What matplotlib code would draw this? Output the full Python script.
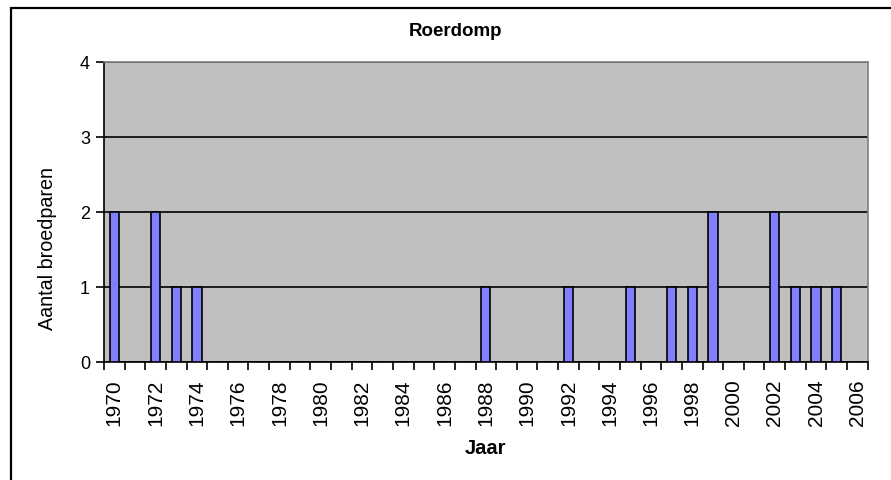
import numpy as np
import matplotlib.pyplot as plt
from matplotlib.patches import Rectangle

plt.rcParams["font.family"] = ["Liberation Sans", "DejaVu Sans"]

# Data: breeding pairs per year
years = list(range(1970, 2007))
counts = {
    1970: 2, 1972: 2, 1973: 1, 1974: 1, 1988: 1, 1992: 1, 1995: 1,
    1997: 1, 1998: 1, 1999: 2, 2002: 2, 2003: 1, 2004: 1, 2005: 1,
}
values = [counts.get(y, 0) for y in years]
year_labels = [str(y) for y in years]

W, H = 891, 481
fig = plt.figure(figsize=(W / 100, H / 100), dpi=100)
ax = fig.add_axes([104 / W, 1 - 363 / H, (867.7 - 104) / W, 300 / H])

# outer chart frame (partly cut off on the right/bottom)
fig.patches.append(Rectangle((11 / W, -0.1), 1.2, 1 - 9 / H + 0.1,
                             transform=fig.transFigure, fill=False,
                             edgecolor="black", linewidth=1.6))

ax.set_facecolor("#C0C0C0")
x = np.arange(len(years))
ax.bar(x, values, width=0.45, color="#8080FF", edgecolor="black",
       linewidth=1.2, zorder=3)

ax.set_xlim(-0.5, len(years) - 0.5)
ax.set_ylim(0, 4)
ax.set_yticks([0, 1, 2, 3, 4])
ax.yaxis.grid(True, color="black", linewidth=1.2, zorder=1)
ax.set_axisbelow(True)

# tick marks on category boundaries, labels on every other category
ax.set_xticks(np.arange(len(years) + 1) - 0.5)
ax.set_xticklabels([])
ax.set_xticks(x[::2], minor=True)
ax.set_xticklabels(year_labels[::2], minor=True, rotation=90, fontsize=15)
ax.tick_params(axis="x", which="major", length=6, width=1.2, direction="out")
ax.tick_params(axis="x", which="minor", length=0, pad=12)
ax.tick_params(axis="y", length=6, width=1.2, labelsize=13, pad=4)

for side in ["left", "bottom"]:
    ax.spines[side].set_color("black")
    ax.spines[side].set_linewidth(1.2)
for side in ["top", "right"]:
    ax.spines[side].set_color("#808080")
    ax.spines[side].set_linewidth(1.2)

# titles placed in pixel positions of the original chart
fig.text(455 / W, 1 - 32 / H, "Roerdomp", fontsize=13.5, fontweight="bold",
         ha="center", va="center")
fig.text(485 / W, 1 - 449 / H, "Jaar", fontsize=14.5, fontweight="bold",
         ha="center", va="center")
fig.text(48 / W, 1 - 249 / H, "Aantal broedparen", fontsize=14.2,
         rotation=90, ha="center", va="center")

fig.savefig("out.png", dpi=100)
